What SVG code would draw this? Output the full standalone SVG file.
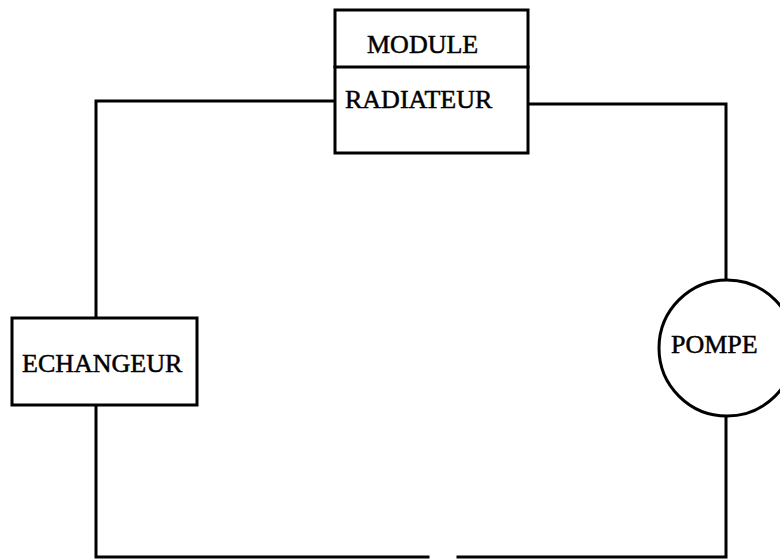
<svg xmlns="http://www.w3.org/2000/svg" width="780" height="560" viewBox="0 0 780 560">
<style>
.ln{fill:none;stroke:#000;stroke-width:3;stroke-linecap:square}
.bx{fill:#fff;stroke:#000;stroke-width:3}
.t{font-family:"Liberation Serif","Times New Roman",serif;font-size:26px;fill:#000;stroke:#000;stroke-width:0.5}
</style>
<rect width="780" height="560" fill="#fff"/>
<g id="connectors">
<path class="ln" d="M335,101 H96 V318"/>
<path class="ln" d="M96,405 V557 H428"/>
<path class="ln" d="M458,557 H726 V417"/>
<path class="ln" d="M726,280 V104 H528"/>
</g>
<g id="module-radiateur">
<rect class="bx" x="335" y="10" width="193" height="143"/>
<line class="ln" x1="335" y1="67" x2="528" y2="67"/>
<text class="t" x="367" y="53">MODULE</text>
<text class="t" x="345" y="108">RADIATEUR</text>
</g>
<g id="echangeur">
<rect class="bx" x="12" y="318" width="185" height="87"/>
<text class="t" x="22" y="372">ECHANGEUR</text>
</g>
<g id="pompe">
<circle class="bx" cx="727" cy="348" r="68"/>
<text class="t" x="671" y="353">POMPE</text>
</g>
</svg>
